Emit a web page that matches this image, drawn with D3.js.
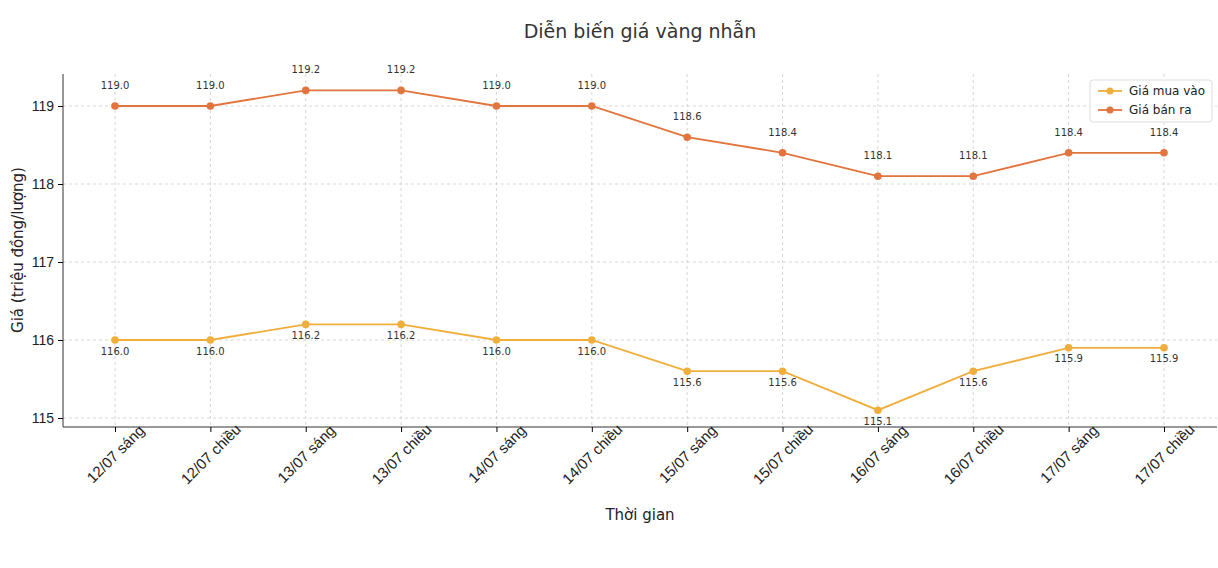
<!DOCTYPE html>
<html><head><meta charset="utf-8">
<script src="https://cdn.jsdelivr.net/npm/d3@7"></script>
<style>body{margin:0;background:#fff;font-family:"DejaVu Sans",sans-serif}</style>
</head><body><svg id="chart" width="1218" height="568"></svg>
<script>
const categories = ["12/07 sáng","12/07 chiều","13/07 sáng","13/07 chiều","14/07 sáng","14/07 chiều","15/07 sáng","15/07 chiều","16/07 sáng","16/07 chiều","17/07 sáng","17/07 chiều"];
const buyValues = [116.0,116.0,116.2,116.2,116.0,116.0,115.6,115.6,115.1,115.6,115.9,115.9];
const sellValues = [119.0,119.0,119.2,119.2,119.0,119.0,118.6,118.4,118.1,118.1,118.4,118.4];
const yTicks = [115,116,117,118,119];

const svg = d3.select('#chart');
const m = {l: 63, r: 1217, t: 74, b: 427};
const x = d3.scalePoint().domain(categories).range([115, 1164]);
const y = d3.scaleLinear().domain([115, 119]).range([418, 106]);

// grid
svg.append('g').selectAll('line').data(categories).join('line')
  .attr('x1', d => x(d)).attr('x2', d => x(d)).attr('y1', m.t).attr('y2', m.b)
  .attr('stroke', '#ccc').attr('stroke-dasharray', '3,3').attr('stroke-width', 0.8);
svg.append('g').selectAll('line').data(yTicks).join('line')
  .attr('x1', m.l).attr('x2', m.r).attr('y1', d => y(d)).attr('y2', d => y(d))
  .attr('stroke', '#ccc').attr('stroke-dasharray', '3,3').attr('stroke-width', 0.8);

// axes
const yAxis = svg.append('g').attr('transform', `translate(${m.l},0)`)
  .call(d3.axisLeft(y).tickValues(yTicks).tickSize(5).tickPadding(4).tickFormat(d3.format('d')));
yAxis.select('.domain').attr('d', `M0,${m.t}V${m.b}`).attr('stroke', '#333');
yAxis.selectAll('text').attr('font-size', 14).attr('fill', '#222');

const xAxis = svg.append('g').attr('transform', `translate(0,${m.b})`)
  .call(d3.axisBottom(x).tickSize(5));
xAxis.select('.domain').attr('d', `M${m.l},0H${m.r}`).attr('stroke', '#333');
xAxis.selectAll('text').attr('font-size', 15).attr('fill', '#222')
  .attr('text-anchor', 'middle').attr('y', 0).attr('dy', '0.35em')
  .attr('transform', 'translate(0,27) rotate(-45)');

const line = d3.line().x((d, i) => x(categories[i])).y(d => y(d));
const series = [
  {name: 'Giá mua vào', values: buyValues, color: '#f0ae3c', dy: 11},
  {name: 'Giá bán ra', values: sellValues, color: '#e2743d', dy: -17}
];
series.forEach(s => {
  svg.append('path').datum(s.values).attr('d', line).attr('fill', 'none')
    .attr('stroke', s.color).attr('stroke-width', 1.8);
  svg.append('g').selectAll('circle').data(s.values).join('circle')
    .attr('cx', (d, i) => x(categories[i])).attr('cy', d => y(d)).attr('r', 3.8).attr('fill', s.color);
  svg.append('g').selectAll('text').data(s.values).join('text')
    .attr('x', (d, i) => x(categories[i])).attr('y', d => y(d) + s.dy)
    .attr('dy', s.dy > 0 ? '0.35em' : '0')
    .attr('text-anchor', 'middle').attr('font-size', 10).attr('fill', '#333')
    .text(d => d.toFixed(1));
});

// legend
const lg = svg.append('g').attr('transform', 'translate(1090,80)');
lg.append('rect').attr('width', 122).attr('height', 42).attr('rx', 3)
  .attr('fill', '#fff').attr('fill-opacity', 0.85).attr('stroke', '#ddd');
series.forEach((s, i) => {
  const g = lg.append('g').attr('transform', `translate(8,${11 + i * 19})`);
  g.append('line').attr('x1', 0).attr('x2', 24).attr('stroke', s.color).attr('stroke-width', 1.8);
  g.append('circle').attr('cx', 12).attr('r', 3.5).attr('fill', s.color);
  g.append('text').attr('x', 31).attr('dy', '0.35em').attr('font-size', 12).attr('fill', '#222').text(s.name);
});

svg.append('text').attr('x', 640).attr('y', 38).attr('text-anchor', 'middle')
  .attr('font-size', 19).attr('fill', '#333').text('Diễn biến giá vàng nhẫn');
svg.append('text').attr('x', 640).attr('y', 520).attr('text-anchor', 'middle')
  .attr('font-size', 15).attr('fill', '#222').text('Thời gian');
svg.append('text').attr('transform', 'translate(23,250) rotate(-90)').attr('text-anchor', 'middle')
  .attr('font-size', 15).attr('fill', '#222').text('Giá (triệu đồng/lượng)');
</script></body></html>
